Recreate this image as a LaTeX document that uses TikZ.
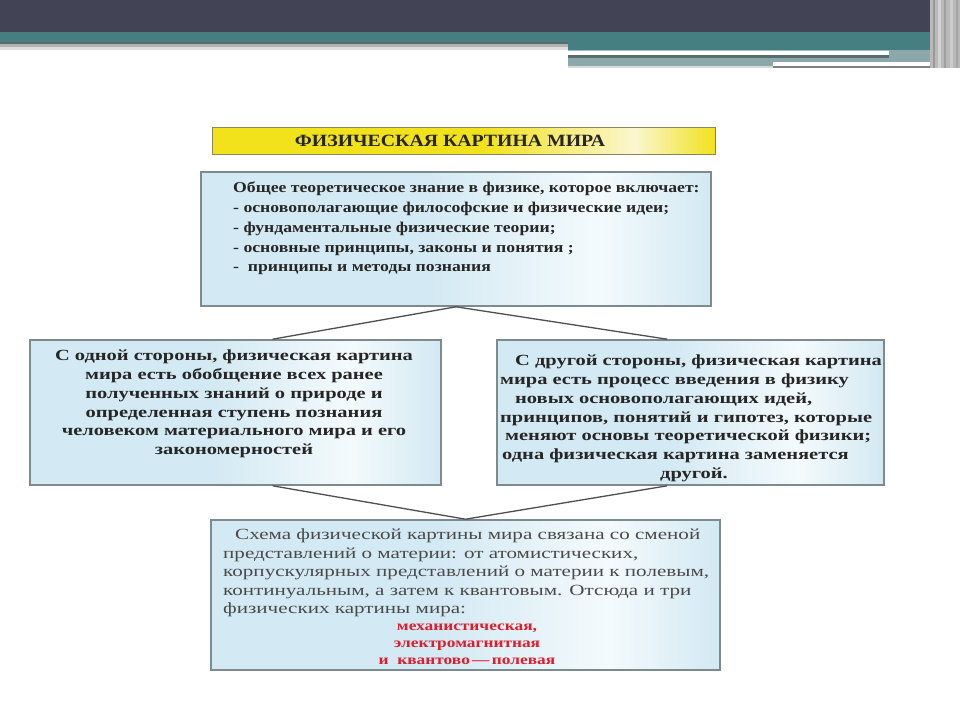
\documentclass[tikz,border=0pt]{standalone}
\usepackage{fontspec}
\setmainfont{Liberation Serif}
\newfontfamily\wideserif[FakeStretch=1.18]{Liberation Serif}
\newfontfamily\widerserif[FakeStretch=1.32]{Liberation Serif}
\newfontfamily\plainserif[FakeStretch=1.36]{Liberation Serif}
\newfontfamily\titleserif[FakeStretch=1.15]{Liberation Serif}
\newfontfamily\redserif[FakeStretch=1.24]{Liberation Serif}
\usetikzlibrary{calc}
\definecolor{darkbar}{HTML}{434356}
\definecolor{tealband}{HTML}{467F81}
\definecolor{tealgray}{HTML}{8DA8AB}
\definecolor{tealdark}{HTML}{566C6E}
\definecolor{boxblue}{HTML}{D3E9F3}
\definecolor{boxwhite}{HTML}{F4FAFC}
\definecolor{boxborder}{HTML}{7D8B8D}
\definecolor{ylw}{HTML}{F2E21C}
\definecolor{ylwlight}{HTML}{FBF6CF}
\definecolor{titleborder}{HTML}{8A8760}
\definecolor{txtdark}{HTML}{262626}
\definecolor{txtgray}{HTML}{4A4A4A}
\definecolor{txtred}{HTML}{E01B2B}
\definecolor{linegray}{HTML}{4F4F4F}
\pgfdeclarehorizontalshading{boxshade}{100bp}{color(0bp)=(boxblue); color(25bp)=(boxblue); color(47bp)=(boxblue); color(64bp)=(boxwhite); color(75bp)=(boxblue); color(100bp)=(boxblue)}
\pgfdeclarehorizontalshading{titleshade}{100bp}{color(0bp)=(ylw); color(25bp)=(ylw); color(52bp)=(ylw); color(67bp)=(ylwlight); color(75bp)=(ylw); color(100bp)=(ylw)}
\tikzset{
  infobox/.style={draw=boxborder, line width=1.6pt, shading=boxshade, inner sep=0pt, rectangle},
  titlebox/.style={draw=titleborder, line width=1pt, shading=titleshade, inner sep=0pt, rectangle},
  boldtxt/.style={text=txtdark, inner sep=0pt, font=\wideserif\bfseries\fontsize{15}{19.7}\selectfont},
  sidetxt/.style={text=txtdark, inner sep=0pt, font=\widerserif\bfseries\fontsize{15.5}{18.7}\selectfont},
  plaintxt/.style={text=txtgray, inner sep=0pt, font=\plainserif\fontsize{15.5}{18.4}\selectfont},
  redtxt/.style={text=txtred, inner sep=0pt, align=center, font=\redserif\bfseries\fontsize{14}{17}\selectfont},
  connector/.style={draw=linegray, line width=1.3pt},
}
\begin{document}
\begin{tikzpicture}[x=1pt,y=-1pt]
\useasboundingbox (0,0) rectangle (960,720);
\fill[white] (0,0) rectangle (960,720);
% header
\fill[darkbar] (0,0) rectangle (937,32);
\fill[tealband] (0,32) rectangle (568,42);
\fill[tealdark] (0,42) rectangle (568,44);
\fill[gray!60] (0,44) rectangle (568,47);
\fill[gray!25] (0,47) rectangle (568,50);
\fill[tealband] (568,32) rectangle (937,50);
\fill[tealgray!80] (568,50) rectangle (889,51);
\fill[tealdark] (568,55) rectangle (889,58);
\fill[tealgray] (568,58) rectangle (773,66);
\fill[tealgray] (773,58) rectangle (889,62);
\fill[tealgray] (889,50) rectangle (937,62);
\fill[gray!30] (568,66) rectangle (773,68);
\fill[gray] (773,65.5) rectangle (942,68);
\fill[gray!55] (930,0) rectangle (960,68);
\fill[gray!80] (933,0) rectangle (935,68);
\fill[gray!35] (938,0) rectangle (941,68);
\fill[gray!75] (944,0) rectangle (946,68);
\fill[gray!40] (950,0) rectangle (953,68);
\fill[gray!70] (956,0) rectangle (958,68);
% title
\node[titlebox, minimum width=503pt, minimum height=27pt] (title) at (463.5,140.5) {};
\node[text=txtdark, inner sep=0pt, font=\titleserif\bfseries\fontsize{17.2}{20}\selectfont] (titletxt) at (450,141) {ФИЗИЧЕСКАЯ КАРТИНА МИРА};
% box 1
\node[infobox, minimum width=510pt, minimum height=134pt] (b1) at (456,239) {};
\node[boldtxt, anchor=north west, align=left] (b1txt) at (233,182) {Общее теоретическое знание в физике, которое включает:\\
- основополагающие философские и физические идеи;\\
- фундаментальные физические теории;\\
- основные принципы, законы и понятия ;\\
-\ \ принципы и методы познания};
% left box
\node[infobox, minimum width=411pt, minimum height=145pt] (bl) at (235.5,412.5) {};
\node[sidetxt, anchor=north, align=center] (bltxt) at (234,350) {С одной стороны, физическая картина\\
мира есть обобщение всех ранее\\
полученных знаний о природе и\\
определенная ступень познания\\
человеком материального мира и его\\
закономерностей};
% right box
\node[infobox, minimum width=387pt, minimum height=145pt] (br) at (690.5,412.5) {};
\node[sidetxt, anchor=north west, align=left] (brtxt) at (500,355) {\hspace*{15pt}С другой стороны, физическая картина\\
мира есть процесс введения в физику\\
\hspace*{15pt}новых основополагающих идей,\\
принципов, понятий и гипотез, которые\\
\hspace*{5pt}меняют основы теоретической физики;\\
\hspace*{2pt}одна физическая картина заменяется\\
\hspace*{160pt}другой.};
% bottom box
\node[infobox, minimum width=509pt, minimum height=150pt] (bb) at (465.5,595) {};
\node[plaintxt, anchor=north west, align=left] (bbtxt) at (223,529) {\hspace*{12pt}Схема физической картины мира связана со сменой\\
представлений о материи: от атомистических,\\
корпускулярных представлений о материи к полевым,\\
континуальным, а затем к квантовым. Отсюда и три\\
физических картины мира:};
\node[redtxt, anchor=north] (redtxt) at (467,624) {механистическая,\\электромагнитная\\и\ \ квантово\,—\,полевая};
% connectors
\coordinate (blin) at ($(bl.north west)!0.59!(bl.north east)$);
\coordinate (brin) at ($(br.north west)!0.44!(br.north east)$);
\coordinate (blout) at ($(bl.south west)!0.59!(bl.south east)$);
\coordinate (brout) at ($(br.south west)!0.44!(br.south east)$);
\draw[connector] (b1.south) -- (blin);
\draw[connector] (b1.south) -- (brin);
\draw[connector] (blout) -- (bb.north);
\draw[connector] (brout) -- (bb.north);
\end{tikzpicture}
\end{document}
